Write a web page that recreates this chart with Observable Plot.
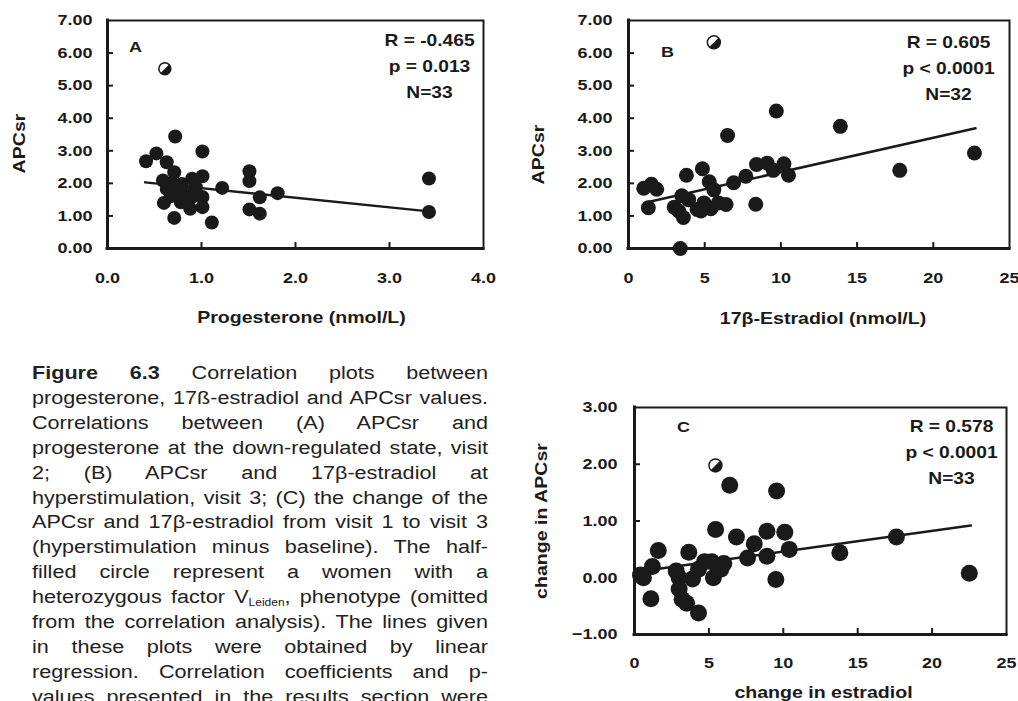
<!DOCTYPE html>
<html>
<head>
<meta charset="utf-8">
<script src="https://cdn.jsdelivr.net/npm/d3@7"></script>
<script src="https://cdn.jsdelivr.net/npm/@observablehq/plot@0.6"></script>
<style>
  html, body { margin: 0; padding: 0; background: #fff; overflow: hidden; }
  #wrap { position: relative; width: 1018px; height: 701px; overflow: hidden; background: #fff; }
  .panel { position: absolute; }
  #caption {
    position: absolute; left: 32px; top: 361px; width: 380px;
    transform: scaleX(1.2); transform-origin: 0 0;
    font-family: "Liberation Sans", Arial, sans-serif; font-size: 18px; line-height: 24.9px; color: #222;
  }
  #caption div { text-align: justify; text-align-last: justify; }
  #caption sub { font-size: 10px; vertical-align: -3px; line-height: 0; }
</style>
</head>
<body>
<div id="wrap">
  <div id="A" class="panel" style="left:0px;top:0px"></div>
  <div id="B" class="panel" style="left:500px;top:0px"></div>
  <div id="C" class="panel" style="left:540px;top:340px"></div>
  <div id="caption">
    <div><b>Figure 6.3</b> Correlation plots between</div>
    <div>progesterone, 17ß-estradiol and APCsr values.</div>
    <div>Correlations between (A) APCsr and</div>
    <div>progesterone at the down-regulated state, visit</div>
    <div>2; (B) APCsr and 17β-estradiol at</div>
    <div>hyperstimulation, visit 3; (C) the change of the</div>
    <div>APCsr and 17β-estradiol from visit 1 to visit 3</div>
    <div>(hyperstimulation minus baseline). The half-</div>
    <div>filled circle represent a women with a</div>
    <div>heterozygous factor V<sub>Leiden</sub>, phenotype (omitted</div>
    <div>from the correlation analysis). The lines given</div>
    <div>in these plots were obtained by linear</div>
    <div>regression. Correlation coefficients and p-</div>
    <div>values presented in the results section were</div>
  </div>
</div>
<script>
// ---------- Panel A: APCsr vs progesterone ----------
const progesteroneA = [0.72,1.01,0.41,0.52,0.63,0.71,0.59,0.63,0.72,0.60,0.71,1.11,0.90,1.01,1.22,0.78,0.90,1.01,1.01,0.88,0.79,0.94,0.69,1.51,1.51,1.62,1.51,1.62,1.81,3.42,3.42,0.67,0.83];
const apcsrA       = [3.44,2.98,2.68,2.92,2.65,2.34,2.09,1.83,1.68,1.40,0.94,0.80,2.14,2.22,1.86,1.42,1.58,1.58,1.27,1.22,1.98,1.88,2.00,2.37,2.07,1.57,1.20,1.07,1.70,2.15,1.12,1.60,1.75];
const halfA = [0.61, 5.52];
const fitAx = [0.40, 3.42];
const fitAy = [2.03, 1.14];
const statsA = ["R = -0.465", "p = 0.013", "N=33"];
const xTicksA = [0, 1, 2, 3, 4];
const yTicksA = [0, 1, 2, 3, 4, 5, 6, 7];

// ---------- Panel B: APCsr vs 17β-estradiol ----------
const estradiolB = [1.0,1.5,1.85,1.3,3.4,3.0,3.3,3.6,3.5,3.95,4.5,4.95,4.75,5.4,5.9,3.8,4.85,5.3,5.6,6.4,6.9,7.7,8.4,9.1,9.5,10.2,10.5,8.35,6.5,9.7,13.9,17.8,22.7];
const apcsrB     = [1.85,1.97,1.82,1.25,0.0,1.27,1.15,0.95,1.62,1.50,1.2,1.40,1.15,1.22,1.40,2.25,2.45,2.05,1.8,1.35,2.02,2.22,2.58,2.62,2.40,2.60,2.25,1.36,3.47,4.22,3.75,2.40,2.93];
const halfB = [5.6, 6.33];
const fitBx = [1.22, 22.77];
const fitBy = [1.42, 3.69];
const statsB = ["R = 0.605", "p < 0.0001", "N=32"];
const xTicksB = [0, 5, 10, 15, 20, 25];
const yTicksB = [0, 1, 2, 3, 4, 5, 6, 7];

// ---------- Panel C: change in APCsr vs change in estradiol ----------
const dEstradiolC = [0.4,0.6,1.2,1.6,1.1,2.8,3.0,3.0,3.2,3.5,4.3,3.65,3.9,4.3,4.7,5.2,5.3,5.8,6.0,5.45,6.4,6.85,7.6,8.05,8.9,8.9,9.5,9.55,10.1,10.4,13.8,17.6,22.5];
const dApcsrC     = [0.05,0.0,0.2,0.48,-0.37,0.12,0.0,-0.2,-0.38,-0.45,-0.62,0.45,-0.02,0.15,0.28,0.28,0.0,0.15,0.25,0.85,1.63,0.72,0.35,0.6,0.82,0.38,-0.03,1.53,0.8,0.5,0.44,0.72,0.08];
const halfC = [5.44, 1.98];
const fitCx = [0.07, 22.6];
const fitCy = [0.10, 0.92];
const statsC = ["R = 0.578", "p < 0.0001", "N=33"];
const xTicksC = [0, 5, 10, 15, 20, 25];
const yTicksC = [-1, 0, 1, 2, 3];

const INK = "#1a1a1a";
const FONT = '"Liberation Sans", Arial, sans-serif';
const STRETCH = 1.2;

const halfSymbol = {
  draw(ctx, size) {
    const r = Math.sqrt(size / Math.PI);
    const a0 = -Math.PI / 4, a1 = 3 * Math.PI / 4;
    ctx.moveTo(r * Math.cos(a0), r * Math.sin(a0));
    ctx.arc(0, 0, r, a0, a1);
    ctx.closePath();
  }
};

// widen glyphs along their baseline (the figure's typeface is wider than Arial)
function stretchText(svg, k) {
  svg.querySelectorAll("text").forEach(t => {
    const tr = t.getAttribute("transform") || "";
    t.setAttribute("transform", `${tr} scale(${k},1)`);
  });
}

function makePanel(c) {
  const pts = c.xs.map((x, i) => ({x, y: c.ys[i]}));
  const fit = c.fitX.map((x, i) => ({x, y: c.fitY[i]}));
  const half = [{x: c.half[0], y: c.half[1]}];
  const bold = {fontWeight: "bold", fill: INK};
  const inner = (t) => t.slice(1, -1);
  const svg = Plot.plot({
    width: c.width, height: c.height,
    marginLeft: c.m[0], marginTop: c.m[1], marginRight: c.m[2], marginBottom: c.m[3],
    x: {domain: c.xDomain, label: null},
    y: {domain: c.yDomain, label: null},
    style: {fontFamily: FONT, fontSize: "15px", background: "white", overflow: "visible", color: INK},
    marks: [
      Plot.axisX(inner(c.xTicks), {tickSize: -6, fill: "none", stroke: INK, strokeWidth: 2}),
      Plot.axisY(inner(c.yTicks), {tickSize: -6, fill: "none", stroke: INK, strokeWidth: 2}),
      Plot.axisX(c.xTicks, {tickSize: 0, tickPadding: c.xPad, tickFormat: d3.format(c.xFmt), label: null, fontSize: 15, ...bold}),
      Plot.axisY(c.yTicks, {tickSize: 0, tickPadding: c.yPad, tickFormat: d3.format(".2f"), label: null, fontSize: 15, ...bold}),
      Plot.frame({stroke: INK, strokeWidth: 2}),
      Plot.ruleX([c.xDomain[0]], {stroke: INK, strokeWidth: 3, strokeLinecap: "square"}),
      Plot.ruleY([c.yDomain[0]], {stroke: INK, strokeWidth: 3, strokeLinecap: "square"}),
      Plot.line(fit, {x: "x", y: "y", stroke: INK, strokeWidth: 2.5}),
      Plot.dot(pts, {x: "x", y: "y", r: c.r, fill: INK}),
      Plot.dot(half, {x: "x", y: "y", r: c.hr, fill: "white", stroke: INK, strokeWidth: 1.5}),
      Plot.dot(half, {x: "x", y: "y", r: c.hr, symbol: halfSymbol, fill: INK}),
      Plot.text([c.letter], {text: d => d, frameAnchor: "top-left", dx: c.letterPos[0], dy: c.letterPos[1], lineAnchor: "middle", textAnchor: "middle", fontSize: 15, ...bold}),
      Plot.text([c.stats.join("\n")], {text: d => d, frameAnchor: "top-right", dx: c.statsPos[0], dy: c.statsPos[1], textAnchor: "middle", lineAnchor: "middle", lineHeight: 1.625, fontSize: 16, ...bold}),
      Plot.text([c.xTitle], {text: d => d, frameAnchor: "bottom", dx: c.xTitlePos[0], dy: c.xTitlePos[1], lineAnchor: "middle", textAnchor: "middle", fontSize: 16.3, ...bold}),
      Plot.text([c.yTitle], {text: d => d, frameAnchor: "left", rotate: -90, dx: c.yTitlePos[0], dy: c.yTitlePos[1], lineAnchor: "middle", textAnchor: "middle", fontSize: 16.3, ...bold})
    ]
  });
  stretchText(svg, STRETCH);
  document.getElementById(c.id).appendChild(svg);
}

makePanel({
  id: "A", width: 490, height: 330, m: [107, 20, 7, 82],
  xDomain: [0, 4], yDomain: [0, 7], xTicks: xTicksA, yTicks: yTicksA, xFmt: ".1f",
  xPad: 24, yPad: 15,
  xs: progesteroneA, ys: apcsrA, half: halfA, fitX: fitAx, fitY: fitAy,
  r: 7, hr: 6, letter: "A", letterPos: [28, 27], stats: statsA, statsPos: [-54, 43],
  xTitle: "Progesterone (nmol/L)", xTitlePos: [6, 69],
  yTitle: "APCsr", yTitlePos: [-88, 9]
});

makePanel({
  id: "B", width: 518, height: 330, m: [128, 20, 9, 82],
  xDomain: [0, 25], yDomain: [0, 7], xTicks: xTicksB, yTicks: yTicksB, xFmt: "d",
  xPad: 24, yPad: 16,
  xs: estradiolB, ys: apcsrB, half: halfB, fitX: fitBx, fitY: fitBy,
  r: 7.5, hr: 6.5, letter: "B", letterPos: [39, 32], stats: statsB, statsPos: [-61, 45],
  xTitle: "17β-Estradiol (nmol/L)", xTitlePos: [4, 70],
  yTitle: "APCsr", yTitlePos: [-90, 20]
});

makePanel({
  id: "C", width: 478, height: 361, m: [94, 67, 12, 67],
  xDomain: [0, 25], yDomain: [-1, 3], xTicks: xTicksC, yTicks: yTicksC, xFmt: "d",
  xPad: 23, yPad: 17,
  xs: dEstradiolC, ys: dApcsrC, half: halfC, fitX: fitCx, fitY: fitCy,
  r: 8.5, hr: 6.5, letter: "C", letterPos: [49, 20], stats: statsC, statsPos: [-55, 42],
  xTitle: "change in estradiol", xTitlePos: [3, 58],
  yTitle: "change in APCsr", yTitlePos: [-93, 0]
});
</script>
</body>
</html>
